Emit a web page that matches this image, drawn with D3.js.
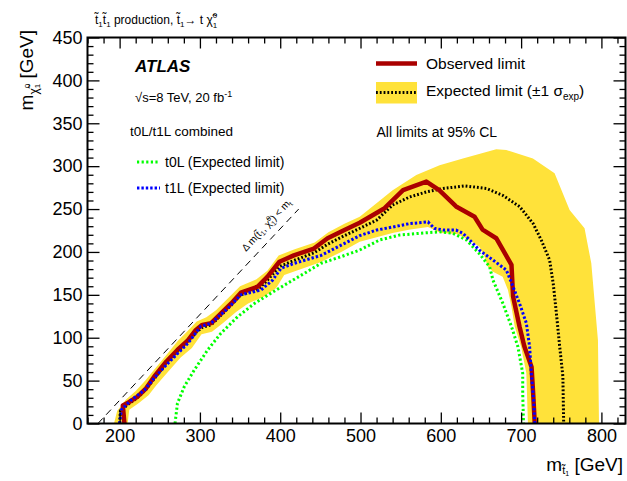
<!DOCTYPE html>
<html>
<head>
<meta charset="utf-8">
<script src="https://cdn.jsdelivr.net/npm/d3@7"></script>
<style>
  body { margin: 0; background: #fff; }
  svg { font-family: "Liberation Sans", Arial, Helvetica, sans-serif; }
</style>
</head>
<body>
<svg id="chart" width="627" height="481"></svg>
<script>
// ---- data: [m_stop, m_LSP] in GeV
const observed = [[206,0],[204,21],[211,24.5],[222,31],[233,41],[243,54.5],[258,72],[272,85.7],[285,97],[295,109],[303,115],[314,117],[326,128],[339,140],[351,152.5],[372,159.5],[384,171],[399,188.6],[417,196],[442,204],[459,216],[480,225.5],[499,234],[530,251],[553,272],[582,282],[598,272],[619,253],[642,241],[652,226],[669,216],[688,185],[690,148],[698,113],[704,90],[713,66],[715,35],[717,0]];
const expected = [[200,0],[201,15],[210,22],[222,30],[233,40],[243,52],[258,70],[272,84],[285,95],[295,106],[303,112],[314,115],[326,126],[339,138],[351,150],[372,156],[384,167],[399,183],[417,190],[442,199],[459,209],[480,219],[499,227.5],[520,237],[540,254.7],[561,264],[582,270],[603,274],[630,277],[657,274],[677,266],[698,253],[715,233],[725,214],[735.5,190.5],[740,163],[744,128],[748,90],[752,55],[753,0]];
const t1L = [[200,0],[202,16],[214,27],[231,39],[243,53],[260,70],[285,93.5],[301,113],[314,117],[334.5,134],[351,150],[376,155.6],[390.5,167],[401,181],[417.5,186.7],[451,196],[476,208],[499,219],[520,225.5],[540,229],[561,233],[584,235],[592,227.5],[603,225.5],[619,225.5],[627.5,221.7],[636,214],[648,202],[665,190.5],[681.5,179],[690,159.5],[698,140],[706.5,117],[710.6,89.5],[712.7,58.5],[715.6,27.4],[717,0]];
const t0L = [[269,0],[272,23.5],[280.5,43],[293,62.4],[309.6,85.7],[326,105],[347,124.5],[368,140],[388,151.7],[409,163.4],[430,175],[450.7,186.7],[475.6,194.4],[498.5,202],[524,214],[548.7,219.7],[573.6,221.7],[598.5,223.5],[615,221.7],[631.8,214],[648,198],[660.8,182.7],[665,167],[677.3,140],[688,113],[696,89.5],[702,58.5],[702,35],[703,0]];
const bandUp = [[193,0],[197,15],[208,28],[220,38],[232,50],[245,65],[260,82],[272,96],[285,108],[296,119],[308,124],[320,132],[335,146],[350,160],[370,168],[384,178],[398,196],[418,203],[443,211],[460,223],[480,233],[499,241],[540,272],[569.5,289.6],[598.5,301],[627.5,309],[669,319.6],[681.5,318.8],[714.7,309],[741.7,291.6],[760.4,248.8],[779,227.5],[787.4,186.7],[795.7,97],[797,0]];
const bandLow = [[210,0],[212,16],[224,24],[236,33],[246,45],[262,62],[276,77],[290,88],[302,104],[315,107],[330,118],[345,130],[360,140],[380,148],[395,158],[405,173],[420,178],[450,188],[476,200],[499,212],[520,217],[540,222],[560,226],[584,229],[600,222],[620,221],[636,214],[648,206],[654.5,194.4],[658.6,182.7],[665,177],[677,171],[683.6,155.6],[688,136],[692,113],[700,89.5],[706.5,58.5],[708.5,0]];
const kinLimit = [[173,0],[423,250]];   // m_LSP = m_stop - m_top

const xTicks = [200,300,400,500,600,700,800];
const yTicks = [0,50,100,150,200,250,300,350,400,450];

const svg = d3.select("#chart");
const L = 87.5, R = 625.5, T = 37.5, B = 423.5;
const x = d3.scaleLinear().domain([160, 830]).range([L, R]);
const y = d3.scaleLinear().domain([0, 450]).range([B, T]);
const line = d3.line().x(d => x(d[0])).y(d => y(d[1]));

const plot = svg.append("g");
plot.append("defs").append("clipPath").attr("id", "clip")
  .append("rect").attr("x", L).attr("y", T).attr("width", R - L).attr("height", B - T);
const g = plot.append("g").attr("clip-path", "url(#clip)");

// band
g.append("path").datum(bandUp.concat(bandLow.slice().reverse()))
  .attr("d", d => line(d) + "Z").attr("fill", "#ffe23a");

// kinematic line
g.append("path").datum(kinLimit).attr("d", line)
  .attr("stroke", "#000").attr("stroke-width", 1).attr("stroke-dasharray", "7,5").attr("fill", "none");

g.append("path").datum(expected).attr("d", line)
  .attr("stroke", "#000").attr("stroke-width", 3).attr("stroke-dasharray", "1.8,2").attr("fill", "none");
g.append("path").datum(observed).attr("d", line)
  .attr("stroke", "#aa0000").attr("stroke-width", 4.5).attr("stroke-linejoin", "round").attr("fill", "none");
g.append("path").datum(t0L).attr("d", line)
  .attr("stroke", "#00ff00").attr("stroke-width", 3).attr("stroke-dasharray", "2.2,2.4").attr("fill", "none");
g.append("path").datum(t1L).attr("d", line)
  .attr("stroke", "#0000ff").attr("stroke-width", 3).attr("stroke-dasharray", "2.4,2").attr("fill", "none");

// ---- axes, ROOT style (ticks inside, all four sides)
const xMinor = d3.range(160, 831, 20).filter(v => v % 100 !== 0);
const yMinor = d3.range(0, 451, 10).filter(v => v % 50 !== 0);

function ax(axis, tr) {
  const a = svg.append("g").attr("transform", tr).call(axis);
  a.select(".domain").remove();
  a.selectAll("line").attr("stroke", "#000").attr("stroke-width", 1.3);
  return a;
}
const bx = ax(d3.axisBottom(x).tickValues(xTicks).tickSize(-11).tickPadding(18), `translate(0,${B})`);
ax(d3.axisBottom(x).tickValues(xMinor).tickSize(-6).tickFormat(""), `translate(0,${B})`);
ax(d3.axisTop(x).tickValues(xTicks).tickSize(-11).tickFormat(""), `translate(0,${T})`);
ax(d3.axisTop(x).tickValues(xMinor).tickSize(-6).tickFormat(""), `translate(0,${T})`);
const ly = ax(d3.axisLeft(y).tickValues(yTicks).tickSize(-12).tickPadding(18), `translate(${L},0)`);
ax(d3.axisLeft(y).tickValues(yMinor).tickSize(-6).tickFormat(""), `translate(${L},0)`);
ax(d3.axisRight(y).tickValues(yTicks).tickSize(-12).tickFormat(""), `translate(${R},0)`);
ax(d3.axisRight(y).tickValues(yMinor).tickSize(-6).tickFormat(""), `translate(${R},0)`);
svg.selectAll(".tick text").attr("font-size", 18).attr("font-family", "Liberation Sans, Arial").attr("fill", "#000");
bx.selectAll(".tick text").attr("dy", "0.71em").attr("y", 6);
ly.selectAll(".tick text").attr("x", -5);

svg.append("rect").attr("x", L).attr("y", T).attr("width", R - L).attr("height", B - T)
  .attr("fill", "none").attr("stroke", "#000").attr("stroke-width", 2);

// ---- axis titles
const xt = svg.append("text").attr("x", 623).attr("y", 471).attr("text-anchor", "end").attr("font-size", 19);
xt.append("tspan").text("m");
xt.append("tspan").attr("font-size", 11).attr("dy", 3).text("t\u0303");
xt.append("tspan").attr("font-size", 7).attr("dy", 2).text("1");
xt.append("tspan").attr("dy", -5).text(" [GeV]");

const yt = svg.append("text").attr("transform", "translate(33,30) rotate(-90)").attr("text-anchor", "end").attr("font-size", 19);
yt.append("tspan").text("m");
yt.append("tspan").attr("font-size", 12).attr("dy", 5).text("\u03c7\u0303");
yt.append("tspan").attr("font-size", 8).attr("dy", -8).text("0");
yt.append("tspan").attr("font-size", 8).attr("dx", -4.5).attr("dy", 10).text("1");
yt.append("tspan").attr("dy", -7).text(" [GeV]");

// ---- header
const tt = svg.append("text").attr("x", 95).attr("y", 24).attr("font-size", 12);
tt.append("tspan").text("t\u0303");
tt.append("tspan").attr("font-size", 8).attr("dy", 3).text("1");
tt.append("tspan").attr("dy", -3).text("t\u0303");
tt.append("tspan").attr("font-size", 8).attr("dy", 3).text("1");
tt.append("tspan").attr("dy", -3).text(" production, t\u0303");
tt.append("tspan").attr("font-size", 8).attr("dy", 3).text("1");
tt.append("tspan").attr("dy", -3).text("\u2192 t \u03c7\u0303");
tt.append("tspan").attr("font-size", 8).attr("dy", -6).text("0");
tt.append("tspan").attr("font-size", 8).attr("dx", -4.5).attr("dy", 10).text("1");

// ---- labels on the plot
svg.append("text").attr("x", 135).attr("y", 72).attr("font-size", 17)
  .attr("font-weight", "bold").attr("font-style", "italic").text("ATLAS");
const en = svg.append("text").attr("x", 135).attr("y", 102).attr("font-size", 13);
en.append("tspan").text("\u221as=8 TeV, 20 fb");
en.append("tspan").attr("font-size", 9).attr("dy", -5).text("-1");
svg.append("text").attr("x", 130).attr("y", 136).attr("font-size", 13.5).text("t0L/t1L combined");

svg.append("line").attr("x1", 137).attr("x2", 160).attr("y1", 162).attr("y2", 162)
  .attr("stroke", "#00ff00").attr("stroke-width", 3).attr("stroke-dasharray", "2.2,2.4");
svg.append("text").attr("x", 165).attr("y", 167).attr("font-size", 14).text("t0L (Expected limit)");
svg.append("line").attr("x1", 137).attr("x2", 160).attr("y1", 188).attr("y2", 188)
  .attr("stroke", "#0000ff").attr("stroke-width", 3).attr("stroke-dasharray", "2.4,2");
svg.append("text").attr("x", 165).attr("y", 193).attr("font-size", 14).text("t1L (Expected limit)");

svg.append("line").attr("x1", 376).attr("x2", 417).attr("y1", 63.5).attr("y2", 63.5)
  .attr("stroke", "#aa0000").attr("stroke-width", 4.5);
svg.append("text").attr("x", 426).attr("y", 68.5).attr("font-size", 15.5).text("Observed limit");
svg.append("rect").attr("x", 376).attr("y", 82).attr("width", 41).attr("height", 21.5).attr("fill", "#ffe23a");
svg.append("line").attr("x1", 376).attr("x2", 417).attr("y1", 92.5).attr("y2", 92.5)
  .attr("stroke", "#000").attr("stroke-width", 3).attr("stroke-dasharray", "1.8,2");
const el = svg.append("text").attr("x", 426).attr("y", 96).attr("font-size", 15.5);
el.append("tspan").text("Expected limit (\u00b11 \u03c3");
el.append("tspan").attr("font-size", 10).attr("dy", 4).text("exp");
el.append("tspan").attr("dy", -4).text(")");
svg.append("text").attr("x", 376.5).attr("y", 137).attr("font-size", 14).text("All limits at 95% CL");

// label along the kinematic line
const ang = Math.atan2(y(kinLimit[1][1]) - y(kinLimit[0][1]), x(kinLimit[1][0]) - x(kinLimit[0][0])) * 180 / Math.PI;
const kl = svg.append("text").attr("transform", `translate(246,252) rotate(${ang})`).attr("font-size", 10);
kl.append("tspan").text("\u0394 m(t\u0303");
kl.append("tspan").attr("font-size", 7).attr("dy", 2).text("1");
kl.append("tspan").attr("dy", -2).text(", \u03c7\u0303");
kl.append("tspan").attr("font-size", 7).attr("dy", -4).text("0");
kl.append("tspan").attr("font-size", 7).attr("dx", -3.9).attr("dy", 7).text("1");
kl.append("tspan").attr("dy", -3).text(") < m");
kl.append("tspan").attr("font-size", 7).attr("dy", 2).text("t");
</script>
</body>
</html>
